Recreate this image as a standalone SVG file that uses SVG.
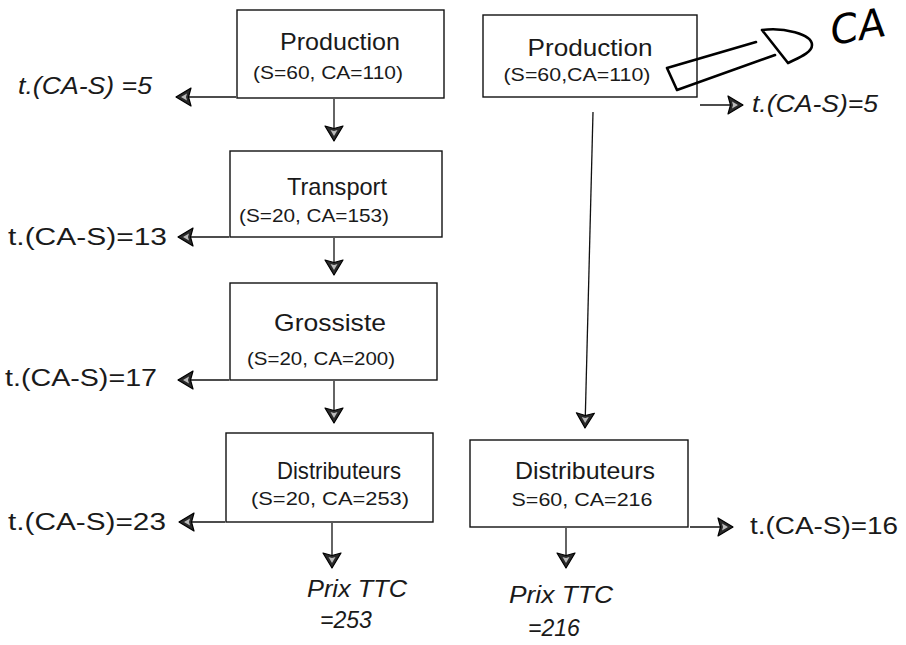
<svg xmlns="http://www.w3.org/2000/svg" width="906" height="645" viewBox="0 0 906 645">
<style>
.box{fill:#fff;stroke:#111;stroke-width:1.4}
.t{font-family:"Liberation Sans",Arial,sans-serif;fill:#1a1a1a;text-anchor:middle}
.title{font-size:24px}
.sub{font-size:19px}
.lab{font-family:"Liberation Sans",Arial,sans-serif;font-size:23px;fill:#1a1a1a}
.it{font-style:italic}
.c{fill:none;stroke:#111;stroke-width:1.3;marker-end:url(#ah)}
.hand{fill:none;stroke:#000;stroke-width:2.6;stroke-linecap:round;stroke-linejoin:round}
</style>
<defs>
<marker id="ah" viewBox="-18 -11 20 22" markerWidth="20" markerHeight="22" refX="0" refY="0" orient="auto" markerUnits="userSpaceOnUse">
<path d="M0,0 L-15,-9 L-12.5,0 L-15,9 Z" fill="#2a2a2a" stroke="#000" stroke-width="1.2" stroke-linejoin="round"/>
<path d="M-5,0 L-11,-3.5 L-10,0 L-11,3.5 Z" fill="#bbb"/>
</marker>
</defs>
<rect width="906" height="645" fill="#fff"/>

<g id="connectors">
<path class="c" d="M236,97 L176,97"/>
<path class="c" d="M334,99 L334,141"/>
<path class="c" d="M229,237 L178,237"/>
<path class="c" d="M334,238 L334,275"/>
<path class="c" d="M229,380 L178,380"/>
<path class="c" d="M334,381 L334,423"/>
<path class="c" d="M225,522 L179,522"/>
<path class="c" d="M332,523 L332,568"/>
<path class="c" d="M700,105 L743,105"/>
<path class="c" d="M593,112 L585,428"/>
<path class="c" d="M690,527 L733,527"/>
<path class="c" d="M566,528 L566,568"/>
</g>

<g id="prod-left">
<rect class="box" x="237" y="10" width="207" height="88"/>
<text class="t title" x="340" y="50" textLength="120" lengthAdjust="spacingAndGlyphs">Production</text>
<text class="t sub" x="328" y="79" textLength="150" lengthAdjust="spacingAndGlyphs">(S=60, CA=110)</text>
</g>
<g id="transport">
<rect class="box" x="230" y="151" width="212" height="86"/>
<text class="t title" x="337" y="195" textLength="100" lengthAdjust="spacingAndGlyphs">Transport</text>
<text class="t sub" x="314" y="222" textLength="150" lengthAdjust="spacingAndGlyphs">(S=20, CA=153)</text>
</g>
<g id="grossiste">
<rect class="box" x="230" y="283" width="207" height="97"/>
<text class="t title" x="330" y="331" textLength="112" lengthAdjust="spacingAndGlyphs">Grossiste</text>
<text class="t sub" x="321" y="365" textLength="148" lengthAdjust="spacingAndGlyphs">(S=20, CA=200)</text>
</g>
<g id="distrib-left">
<rect class="box" x="226" y="433" width="207" height="89"/>
<text class="t title" x="339" y="479" textLength="124" lengthAdjust="spacingAndGlyphs">Distributeurs</text>
<text class="t sub" x="330" y="505" textLength="158" lengthAdjust="spacingAndGlyphs">(S=20, CA=253)</text>
</g>
<g id="prod-right">
<rect class="box" x="483" y="15" width="214" height="82"/>
<text class="t title" x="590" y="56" textLength="125" lengthAdjust="spacingAndGlyphs">Production</text>
<text class="t sub" x="577" y="81" textLength="147" lengthAdjust="spacingAndGlyphs">(S=60,CA=110)</text>
</g>
<g id="distrib-right">
<rect class="box" x="470" y="440" width="218" height="87"/>
<text class="t title" x="585" y="479" textLength="140" lengthAdjust="spacingAndGlyphs">Distributeurs</text>
<text class="t sub" x="582" y="506" textLength="141" lengthAdjust="spacingAndGlyphs">S=60, CA=216</text>
</g>

<g id="labels">
<text class="lab it" x="18" y="94" textLength="134" lengthAdjust="spacingAndGlyphs">t.(CA-S) =5</text>
<text class="lab" x="8" y="245" textLength="159" lengthAdjust="spacingAndGlyphs">t.(CA-S)=13</text>
<text class="lab" x="5" y="386" textLength="152" lengthAdjust="spacingAndGlyphs">t.(CA-S)=17</text>
<text class="lab" x="8" y="530" textLength="158" lengthAdjust="spacingAndGlyphs">t.(CA-S)=23</text>
<text class="lab it" x="752" y="112" textLength="126" lengthAdjust="spacingAndGlyphs">t.(CA-S)=5</text>
<text class="lab" x="750" y="534" textLength="148" lengthAdjust="spacingAndGlyphs">t.(CA-S)=16</text>
<text class="lab it" x="307" y="597" textLength="100" lengthAdjust="spacingAndGlyphs">Prix TTC</text>
<text class="lab it" x="320" y="628">=253</text>
<text class="lab it" x="509" y="603" textLength="104" lengthAdjust="spacingAndGlyphs">Prix TTC</text>
<text class="lab it" x="528" y="636">=216</text>
</g>

<g id="annotation">
<path class="hand" d="M667,68 L756,42 M677,90 L775,55 M667,68 L677,90 M762,30 L788,63 M762,30 C783,27 812,34 812,45 C812,53 798,58 788,63"/>
<text x="830" y="40" font-family="'DejaVu Sans',sans-serif" font-size="40" font-style="italic" fill="#000" transform="rotate(-10 860 25)">CA</text>
</g>
</svg>
